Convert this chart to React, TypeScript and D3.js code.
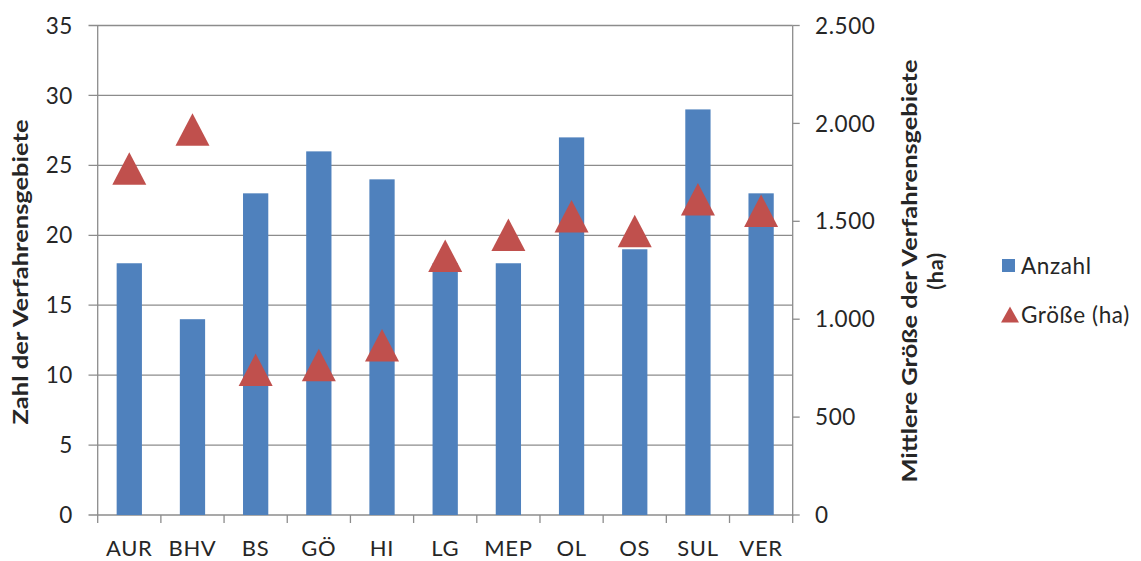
import React from "react";
import * as d3 from "d3";

const categories = ["AUR", "BHV", "BS", "GÖ", "HI", "LG", "MEP", "OL", "OS", "SUL", "VER"];
const anzahl = [18, 14, 23, 26, 24, 18, 18, 27, 19, 29, 23];
const groesse = [1768, 1968, 740, 765, 866, 1323, 1430, 1524, 1449, 1611, 1553];
const leftTicks = [0, 5, 10, 15, 20, 25, 30, 35];
const rightTicks = [0, 500, 1000, 1500, 2000, 2500];

const W = 1141;
const H = 561;
const plotLeft = 97.7;
const plotRight = 792.7;
const plotTop = 25.5;
const plotBottom = 515;

const BAR = "#4F81BD";
const TRI = "#C0504D";
const GRID = "#8c8c8c";
const TEXT = "#262626";
const FONT = "Lato, 'Open Sans', sans-serif";
const FS = 22.5;
const LS = 0.6;

export default function App() {
  const x = d3.scaleBand<string>().domain(categories).range([plotLeft, plotRight]).paddingInner(0.6).paddingOuter(0.3);
  const yL = d3.scaleLinear().domain([0, 35]).range([plotBottom, plotTop]);
  const yR = d3.scaleLinear().domain([0, 2500]).range([plotBottom, plotTop]);
  const step = x.step();
  const boundaries = d3.range(categories.length + 1).map((i) => plotLeft + i * step);
  const fmt = (v: number) => d3.format(",")(v).replace(/,/g, ".");
  const triPath = (cx: number, cy: number) =>
    d3.line()([
      [cx, cy - 16.5],
      [cx + 17, cy + 16],
      [cx - 17, cy + 16],
    ]) + "Z";

  return (
    <svg width={W} height={H} style={{ position: "absolute", left: 0, top: 0, background: "#fff" }} fontFamily={FONT}>
      <rect x={0} y={0} width={W} height={H} fill="#fff" />
      {leftTicks.map((t) => (
        <line key={"g" + t} x1={88.5} x2={plotRight} y1={yL(t)} y2={yL(t)} stroke={GRID} strokeWidth={1.3} />
      ))}
      <line x1={plotLeft} x2={plotLeft} y1={plotTop} y2={plotBottom} stroke={GRID} strokeWidth={1.3} />
      <line x1={plotRight} x2={plotRight} y1={plotTop} y2={plotBottom + 1} stroke={GRID} strokeWidth={1.3} />
      {rightTicks.map((t) => (
        <line key={"rt" + t} x1={plotRight} x2={plotRight + 7} y1={yR(t)} y2={yR(t)} stroke={GRID} strokeWidth={1.3} />
      ))}
      {boundaries.map((b, i) => (
        <line key={"ct" + i} x1={b} x2={b} y1={plotBottom} y2={plotBottom + 8} stroke={GRID} strokeWidth={1.3} />
      ))}
      {categories.map((c, i) => (
        <rect key={"b" + c} x={x(c)} y={yL(anzahl[i])} width={x.bandwidth()} height={plotBottom - yL(anzahl[i])} fill={BAR} />
      ))}
      {categories.map((c, i) => (
        <path key={"t" + c} d={triPath((x(c) as number) + x.bandwidth() / 2, yR(groesse[i]))} fill={TRI} />
      ))}
      {leftTicks.map((t) => (
        <text key={"lt" + t} x={73} y={yL(t)} dy="0.36em" textAnchor="end" fontSize={FS} letterSpacing={LS} fill={TEXT}>
          {t}
        </text>
      ))}
      {rightTicks.map((t) => (
        <text key={"rl" + t} x={815} y={yR(t)} dy="0.36em" textAnchor="start" fontSize={FS} letterSpacing={LS} fill={TEXT}>
          {fmt(t)}
        </text>
      ))}
      {categories.map((c) => (
        <text key={"cl" + c} x={(x(c) as number) + x.bandwidth() / 2} y={555.5} textAnchor="middle" fontSize={22} letterSpacing={0.7} fill={TEXT}>
          {c}
        </text>
      ))}
      <text transform="translate(28,272) rotate(-90)" textAnchor="middle" fontSize={21} fontWeight="bold" fill={TEXT} textLength={305} lengthAdjust="spacingAndGlyphs">
        Zahl der Verfahrensgebiete
      </text>
      <text transform="translate(917,271) rotate(-90)" textAnchor="middle" fontSize={21.5} fontWeight="bold" fill={TEXT} textLength={423} lengthAdjust="spacingAndGlyphs">
        Mittlere Größe der Verfahrensgebiete
      </text>
      <text transform="translate(943,271) rotate(-90)" textAnchor="middle" fontSize={21.5} fontWeight="bold" fill={TEXT} letterSpacing={0.8}>
        (ha)
      </text>
      <rect x={1002} y={259} width={13} height={13} fill={BAR} />
      <text x={1021} y={266} dy="0.36em" fontSize={FS} letterSpacing={LS} fill={TEXT}>
        Anzahl
      </text>
      <path d={d3.line()([[1010, 306.5], [1019, 322.5], [1001, 322.5]]) + "Z"} fill={TRI} />
      <text x={1021} y={315} dy="0.36em" fontSize={FS} letterSpacing={LS} fill={TEXT}>
        Größe (ha)
      </text>
    </svg>
  );
}
